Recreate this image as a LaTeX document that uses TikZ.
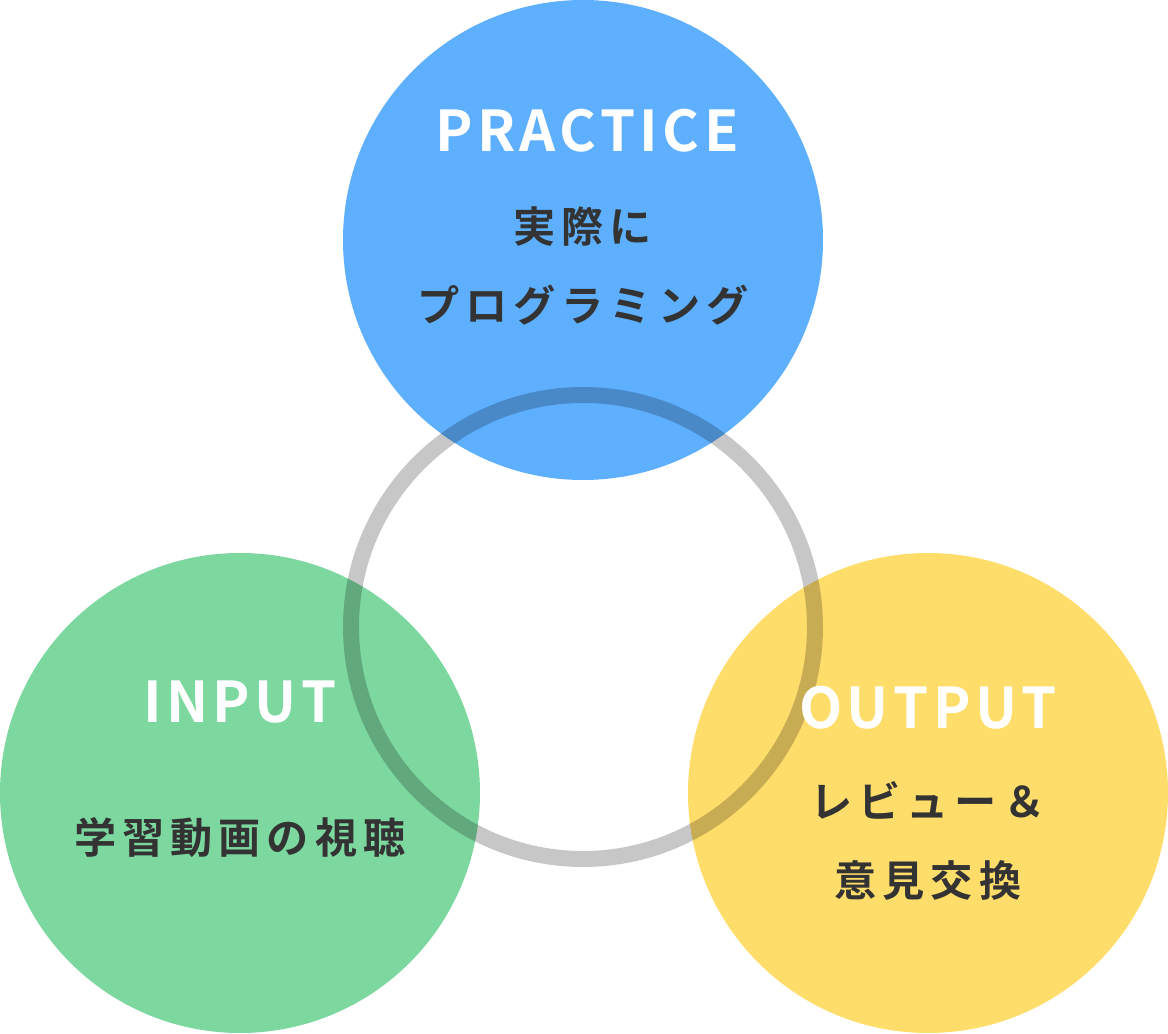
\documentclass[tikz,border=0pt]{standalone}
\usepackage{fontspec}
\setmainfont{Noto Sans CJK JP}[BoldFont={* Bold}]
\newfontfamily\headfont{Noto Sans CJK JP}[BoldFont={* Bold},LetterSpace=8]
\newfontfamily\bodyfont{Noto Sans CJK JP}[BoldFont={* Bold},LetterSpace=14]
\usetikzlibrary{positioning}
\definecolor{practiceblue}{HTML}{5EB0FF}
\definecolor{inputgreen}{HTML}{7DD8A0}
\definecolor{outputyellow}{HTML}{FFDD6B}
\definecolor{textgray}{HTML}{333333}
\tikzset{
bubble/.style={circle, minimum size=4.8cm, inner sep=0pt},
headline/.style={text=white, font=\headfont\bfseries\fontsize{16}{18}\selectfont},
caption/.style={text=textgray, font=\bodyfont\bfseries\fontsize{12}{16}\selectfont, align=center},
}

\begin{document}
\begin{tikzpicture}[y=-1cm]
    \useasboundingbox (0,0) rectangle (11.68,10.34);

    %circles
    \node[bubble, fill=practiceblue]  (practice) at (5.83,2.40) {};
    \node[bubble, fill=inputgreen]    (input)    at (2.40,7.93) {};
    \node[bubble, fill=outputyellow]  (output)   at (9.28,7.93) {};

    %ring on top
    \draw[black, opacity=0.22, line width=0.16cm] (5.83,6.27) circle (2.32);

    %labels
    \node[headline] (practicehead) at (5.87,1.31) {PRACTICE};
    \node[caption]  (practicetext) at (5.83,2.66) {実際に\\[0.22cm]プログラミング};
    \node[headline] (inputhead)    at (2.40,7.02) {INPUT};
    \node[caption]  (inputtext)    at (2.40,8.38) {学習動画の視聴};
    \node[headline] (outputhead)   at (9.28,7.08) {OUTPUT};
    \node[caption]  (outputtext)   at (9.28,8.41) {レビュー＆\\[0.22cm]意見交換};

\end{tikzpicture}
\end{document}
